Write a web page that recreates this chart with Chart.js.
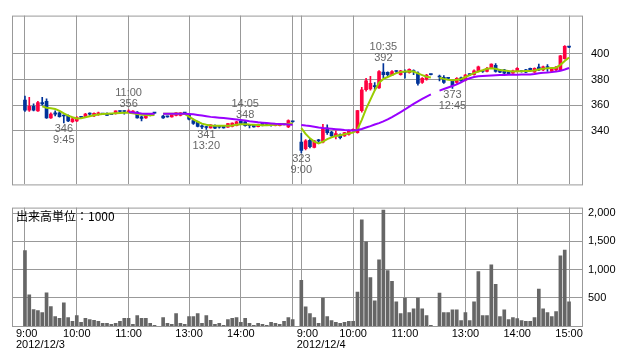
<!DOCTYPE html>
<html>
<head>
<meta charset="utf-8">
<script src="https://cdn.jsdelivr.net/npm/chart.js@4.4.0/dist/chart.umd.min.js"></script>
<style>
    html, body { margin: 0; padding: 0; background: #fff; }
    #wrap { position: relative; width: 638px; height: 362px; }
    #price { position: absolute; left: 0; top: 0; }
    #volume { position: absolute; left: 0; top: 195px; }
</style>
</head>
<body>
<div id="wrap">
    <canvas id="price" width="638" height="200"></canvas>
    <canvas id="volume" width="638" height="167"></canvas>
</div>
<script>
// --- 1. CONFIG ---
const CONFIG = {
    UP: '#ff0040',
    DOWN: '#003399',
    MA_SHORT: '#99cc00',
    MA_LONG: '#9900ff',
    VOLUME: '#666666',
    GRID: '#999999',
    NOTE: '#666666',
    FONT: "11px 'Liberation Sans', Arial, sans-serif",
    CJK_FONT: "12px 'Noto Sans CJK JP', sans-serif",
    PAD: 3 // empty slots at each side of the plot
};

// --- 2. DATA (5 minute bars, two sessions a day) ---
const days = ['2012/12/3', '2012/12/4'];
const gridTimes = ['9:00', '10:00', '11:00', '13:00', '14:00', '15:00'];
const priceTicks = [340, 360, 380, 400];
const volumeTicks = [500, 1000, 1500, 2000];
const volumeUnit = '出来高単位：1000';

function timesBetween(from, to) {
    const out = [];
    for (let m = from; m <= to; m += 5) out.push(Math.floor(m / 60) + ':' + String(m % 60).padStart(2, '0'));
    return out;
}
const dayTimes = [...timesBetween(540, 690), '', ...timesBetween(750, 900)];
const slotTimes = [...dayTimes, '', ...dayTimes];

const opens = [
    364,356,359,355.5,362,363,350,354,354,352,352,347,347.6,350.5,351,353,351.5,352.5,353,353.5,353,353.5,355,355,354.5,354.5,354.5,350.8,350,352,353.7,
    null,
    351.5,351,350.8,352,352,353.7,353,348,347,343.5,343,342.2,344,342.7,343.4,342.7,343.4,344,347.5,347,344.2,344.6,343.2,346,345,345,344,344,345,343,347,
    null,
    331,326,332.4,327,332,331,342,339,336,337,336,337,340,338.5,355.7,372,372.6,374.5,373.4,385.8,385.6,383.4,386.3,383.9,385.5,385.3,386.3,385,377.7,380.2,383.9,
    null,
    382,381.7,380.9,379,377.7,381.4,379.5,383.9,383.9,386.3,386.3,386.3,388.8,391.2,387.5,387.5,386.3,385,386.3,386.3,387.5,388.8,385.8,389.8,387.5,389.4,386.3,387.5,387.5,396.3,405.4
];
const highs = [
    367,366,361,363,366,365,354,355.5,355,352.5,352.5,350,351,351,353.5,354,354,354.5,353.5,354,353.5,355.5,355.5,355.5,356.4,355.8,355,351.5,353.5,352.5,354,
    null,
    352,351.5,353.2,354.2,354.2,354,353.5,349,347.5,344.5,343.5,344.8,344.5,343.5,344,345.8,346.2,347.4,347.8,348,344.6,345,345.2,346.5,345.4,345.4,345.8,345.8,345.4,348.5,347.5,
    null,
    338,333,333.5,332.5,333.2,345,344.6,339.5,339.8,337.5,338.8,340.5,341.5,356,374,381,382.6,377.7,387,392.4,386,387,387,387.2,387.5,388.3,387.5,386,381.5,384,384.2,
    null,
    383.4,383,381.5,379.6,381.5,382,384,384.5,387.5,390.5,387,389.5,392.2,392.5,388,388,386.8,387.3,389.3,386.8,388,389,389.2,392,390.5,391.7,389.3,390.3,399,406.5,405.6
];
const lows = [
    355,355,355.5,355,360,349.5,349.5,351.5,350.5,346,347,346.5,347,350,350.5,352,351,352,352.5,352,352.5,353,354.5,353,354,354,349.8,347.6,349.5,351.5,353.5,
    null,
    349.5,350.5,350.5,351.5,351.5,353.5,348.5,345,343,341.5,341,342,341.5,342,342,342.5,343,343.8,345,343.6,342.2,342.8,343,343.8,344.5,343.5,343.8,343.8,344.6,342.3,346.5,
    null,
    322.6,325,326.5,326.5,330.8,330.5,337,335.5,333.6,333.5,335.5,336.5,339.5,338,354.5,371,371.6,372.1,373,381.4,383,383,385,383.5,381,385,383.9,375.5,377,379.6,383.6,
    null,
    379,377,380,373,377,378.5,379,383,383.5,386,385.5,386,388.5,385.8,385.3,383.4,384,384.7,386,385.8,385.3,387,385.5,387,387,386.3,386,387,387,396,405
];
const closes = [
    356,359,356,362,361,350,353,353,351,351.5,347.6,349.3,350.3,350.5,353,353,353.5,354,353,352,352.5,355.5,355,355,355.6,355.3,350,349.5,353,352,353.7,
    null,
    350,350.8,353,354,354,353.7,349,345.6,343.4,343,342.5,344.6,342,342.7,342.2,345.6,346,347,345.6,344,344,343,345,344,345,345,345.6,345.6,345,348,347,
    null,
    324.5,332,327.5,332,332,341.7,338.5,336,337.8,334.5,338.5,340,341,355.7,372,379,377,374.5,386.3,383.9,383.9,386.3,386.3,386.8,385.5,388,386.3,377,380.9,383.4,383.9,
    null,
    382,377.7,380.9,375.3,380.9,379,383.4,383.9,386.8,390,386.3,388.8,392,386.3,385.8,385,384.4,386.8,388.8,386.3,385.8,387.5,388.8,387.5,390,389.4,388.8,389.8,398.6,405.9,405.4
];
const maShort = [
    null,null,null,null,359,358,357.5,357,355.5,353.5,351.8,350.5,349.6,349.8,350.5,351.3,352,352.6,353,353.3,353.5,353.7,353.9,354,354.1,353.6,353,352.5,352.2,352,352.2,
    null,
    353.2,353.2,353.2,353.2,353.2,353.1,351,348.8,347,345.5,344.6,344,343.8,343.8,343.8,343.9,344.1,344.6,345.1,345.1,344.8,344.6,344.4,344.2,344.2,344.4,344.6,344.8,345,345.2,345.8,
    null,
    342,337.5,334,331.5,330,331.5,333.4,334.8,335.8,336.5,337.2,337.9,338.5,341,348.5,357,364.3,371.5,377.5,380.5,382,383.5,385,385.8,386.3,386.4,386.3,384.8,383.5,382.2,381.6,
    null,
    381.5,380.5,379.8,379.5,379.8,380.3,382,383.5,385,386.3,387.3,388.5,388.9,388.5,387.5,387,386.6,386.3,386.4,386.5,386.6,386.7,387,387.8,388.5,388.9,389.1,389.3,391.5,394.5,397.3
];
const maLong = [
    null,null,null,null,null,null,null,null,null,null,null,null,null,null,null,null,null,null,null,null,null,null,null,null,354.6,354.2,353.8,353.5,353.3,353.2,353.2,
    null,
    353.2,353.2,353.2,353.2,353.2,353.2,353.1,352.8,352.3,351.8,351.3,350.8,350.5,350.2,349.9,349.6,349.2,348.8,348.4,347.9,347.4,347,346.6,346.3,346,345.7,345.4,345.2,345,344.8,344.7,
    null,
    344.5,344,343.6,343.1,342.5,342.1,341.8,341.5,341.2,340.9,340.6,340.4,340.2,340.5,341.3,342.5,343.6,344.8,345.9,347.3,348.9,350.7,352.6,354.6,356.6,358.8,361,363,364.9,366.7,368.4,
    null,
    371.3,372.6,373.8,375,376.2,377.8,379.7,381,382,382.5,382.8,383,383.2,383.4,383.5,383.6,383.7,383.8,383.8,383.9,383.9,384,384.4,385,385.3,385.5,385.8,386.2,386.8,387.8,389
];
const volumes = [
    1336,552,290,273,238,587,343,168,134,412,151,81,186,64,134,116,99,81,46,46,29,46,81,134,134,29,186,134,134,46,12,
    null,
    151,46,29,221,46,29,168,168,221,46,186,99,29,46,12,116,134,151,64,134,46,12,46,29,12,64,46,29,81,151,116,
    null,
    809,341,220,150,46,497,168,98,64,46,64,81,81,601,1884,1491,861,445,1173,2058,983,792,428,220,497,237,306,497,306,185,12,
    null,
    584,237,237,289,289,98,237,98,428,965,185,185,1087,740,168,289,116,150,133,98,81,81,150,653,306,237,168,254,1243,1347,428
];
// highs / lows that carry a note: bar index, time shown, above or below
const notes = [
    { at: 9, time: '9:45', below: true },
    { at: 24, time: '11:00', below: false },
    { at: 42, time: '13:20', below: true },
    { at: 51, time: '14:05', below: false },
    { at: 64, time: '9:00', below: true },
    { at: 83, time: '10:35', below: false },
    { at: 99, time: '12:45', below: true }
];

// --- 3. HELPERS ---
const blank = Array(CONFIG.PAD).fill('');
const labels = [...blank, ...slotTimes, ...blank];
const padded = arr => [...Array(CONFIG.PAD).fill(null), ...arr, ...Array(CONFIG.PAD).fill(null)];
const candleColors = padded(opens.map((o, i) => (o === null ? null : (closes[i] > o ? CONFIG.UP : CONFIG.DOWN))));

const xAxis = () => ({
    type: 'category',
    offset: false,
    grid: { color: CONFIG.GRID, offset: false, drawTicks: false },
    border: { display: false },
    ticks: { display: false },
    afterBuildTicks: scale => {
        scale.ticks = scale.ticks.filter(t => gridTimes.includes(labels[t.value]));
    }
});

const yAxis = (min, max, ticks, padding, format) => ({
    position: 'right',
    min, max,
    grid: { color: CONFIG.GRID, drawTicks: false },
    border: { display: false },
    ticks: { color: '#000', font: { family: 'Liberation Sans', size: 11 }, padding, callback: format },
    afterBuildTicks: scale => { scale.ticks = ticks.map(v => ({ value: v })); },
    afterFit: scale => { scale.width = 56; }
});

const frame = {
    id: 'frame',
    afterDraw(chart) {
        const { ctx, chartArea: a } = chart;
        ctx.save();
        ctx.strokeStyle = CONFIG.GRID;
        ctx.lineWidth = 1;
        ctx.strokeRect(a.left + 0.5, a.top + 0.5, a.right - a.left, a.bottom - a.top);
        ctx.restore();
    }
};

const priceNotes = {
    id: 'priceNotes',
    afterDatasetsDraw(chart) {
        const { ctx, scales: { x, y } } = chart;
        ctx.save();
        ctx.font = CONFIG.FONT;
        ctx.fillStyle = CONFIG.NOTE;
        ctx.textAlign = 'center';
        ctx.textBaseline = 'middle';
        notes.forEach(n => {
            const px = x.getPixelForValue(n.at + CONFIG.PAD);
            if (n.below) {
                const py = y.getPixelForValue(lows[n.at]);
                ctx.fillText(String(Math.round(lows[n.at])), px, py + 6);
                ctx.fillText(n.time, px, py + 17);
            } else {
                const py = y.getPixelForValue(highs[n.at]);
                ctx.fillText(n.time, px, py - 16.5);
                ctx.fillText(String(Math.round(highs[n.at])), px, py - 5.5);
            }
        });
        ctx.restore();
    }
};

const volumeText = {
    id: 'volumeText',
    afterDraw(chart) {
        const { ctx, chartArea: a, scales: { x } } = chart;
        ctx.save();
        ctx.fillStyle = '#000';
        ctx.textBaseline = 'middle';
        ctx.font = CONFIG.CJK_FONT;
        ctx.textAlign = 'left';
        ctx.fillText(volumeUnit, a.left + 4, a.top + 9);

        ctx.font = CONFIG.FONT;
        const timeY = a.bottom + 7.5;
        const dateY = a.bottom + 19;
        let day = 0;
        let edge = a.left;
        x.ticks.forEach(t => {
            const label = labels[t.value];
            const px = x.getPixelForValue(t.value);
            if (label === '9:00') {
                const left = Math.max(px - ctx.measureText(label).width / 2, edge + 4);
                ctx.textAlign = 'left';
                ctx.fillText(label, left, timeY);
                ctx.fillText(days[day++], left, dateY);
            } else if (label === '15:00' && day < days.length) {
                edge = px; // session close before the next day: no label
            } else {
                ctx.textAlign = 'center';
                ctx.fillText(label, px, timeY);
            }
        });
        ctx.restore();
    }
};

const common = {
    responsive: false,
    devicePixelRatio: 1,
    animation: false,
    events: [],
    plugins: { legend: { display: false }, tooltip: { enabled: false } }
};

// --- 4. CHARTS ---
new Chart(document.getElementById('price'), {
    type: 'bar',
    data: {
        labels,
        datasets: [
            {
                type: 'line', data: padded(maLong), borderColor: CONFIG.MA_LONG, borderWidth: 2,
                pointRadius: 0, spanGaps: false, order: 0
            },
            {
                type: 'line', data: padded(maShort), borderColor: CONFIG.MA_SHORT, borderWidth: 2,
                pointRadius: 0, spanGaps: false, order: 1
            },
            {
                data: padded(opens.map((o, i) => (o === null ? null : [o, closes[i]]))),
                backgroundColor: candleColors, barThickness: 3, minBarLength: 1, grouped: false, order: 2
            },
            {
                data: padded(lows.map((l, i) => (l === null ? null : [l, highs[i]]))),
                backgroundColor: candleColors, barThickness: 1, grouped: false, order: 3
            }
        ]
    },
    options: {
        ...common,
        layout: { padding: { left: 12, top: 10, bottom: 10, right: 0 } },
        scales: {
            x: xAxis(),
            y: yAxis(298, 430, priceTicks, 9, v => String(v))
        }
    },
    plugins: [frame, priceNotes]
});

new Chart(document.getElementById('volume'), {
    type: 'bar',
    data: {
        labels,
        datasets: [{ data: padded(volumes), backgroundColor: CONFIG.VOLUME, barThickness: 3 }]
    },
    options: {
        ...common,
        layout: { padding: { left: 12, top: 10, bottom: 36, right: 0 } },
        scales: {
            x: xAxis(),
            y: yAxis(0, 2100, volumeTicks, 6, v => v.toLocaleString('en-US'))
        }
    },
    plugins: [frame, volumeText]
});
</script>
</body>
</html>
